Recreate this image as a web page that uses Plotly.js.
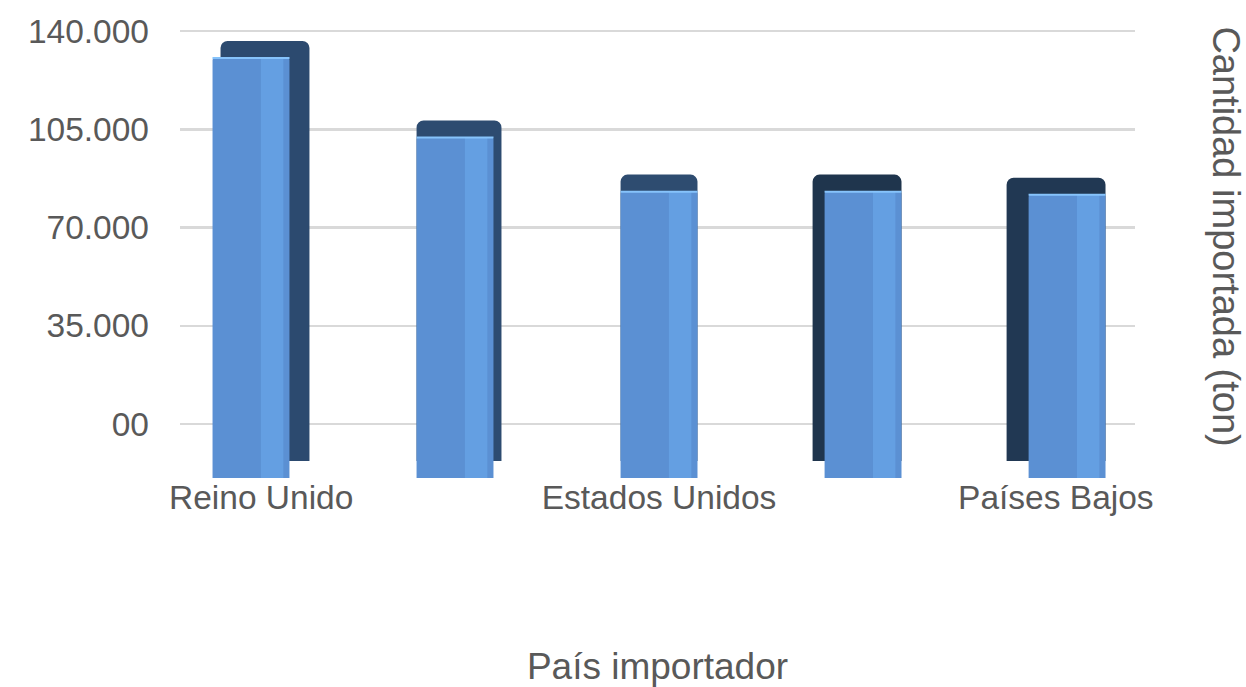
<!DOCTYPE html>
<html>
<head>
<meta charset="utf-8">
<script src="https://cdn.plot.ly/plotly-3.0.1.min.js"></script>
<style>
  html, body { margin: 0; padding: 0; background: #ffffff; }
  #chart { width: 1246px; height: 687px; }
</style>
</head>
<body>
<div id="chart"></div>
<script>
// ---- data ----
// Five importing countries; the original chart only prints every other label.
const barLabels = ["Reino Unido", "", "Estados Unidos", "", "Países Bajos"];
const importTon = [132000, 107000, 90000, 90000, 89000];
const yTickVals = [0, 35000, 70000, 105000, 140000];
const yTickText = ["00", "35.000", "70.000", "105.000", "140.000"];
const xTitle = "País importador";
const yTitle = "Cantidad importada (ton)";

// ---- styling (3D look) ----
const xPos = barLabels.map((_, i) => i);
const tickIdx = xPos.filter(i => barLabels[i] !== "");
const labelNudge = [0.05, 0, -0.055];          // perspective of labels
const barW = 0.377;
const pxPerUnit = 204;
const depthLeftPx = [8, 0, 0, -12, -22];       // perspective of top / side faces
const depthRightPx = [20, 8, 0, 0, 0];
const depthColors = ["#2c4a6f", "#2d4b70", "#2e4c70", "#1f354d", "#213853"];
const font = "Liberation Sans, Arial, sans-serif";
const grey = "#595959";

// invisible trace so that the base (grid) subplot exists
const gridHost = {
  type: "scatter", mode: "markers", x: xPos, y: importTon, yaxis: "y",
  marker: { opacity: 0 }, hoverinfo: "skip", showlegend: false
};
const depth = {
  type: "bar", x: xPos, y: importTon, yaxis: "y2",
  width: depthLeftPx.map((l, i) => barW + (depthRightPx[i] - l) / pxPerUnit),
  offset: depthLeftPx.map(l => -barW / 2 + l / pxPerUnit),
  marker: { color: depthColors, cornerradius: 7, line: { width: 0 } },
  hoverinfo: "skip", showlegend: false
};
const front = {
  type: "bar", x: xPos, y: importTon, yaxis: "y3",
  width: barW, offset: -barW / 2,
  marker: { color: "#5b90d3", cornerradius: 2, line: { width: 0 } },
  hoverinfo: "skip", showlegend: false
};
const shine = {
  type: "bar", x: xPos, y: importTon, yaxis: "y3",
  width: 0.11, offset: barW / 2 - 0.14,
  marker: { color: "#6cabee", opacity: 0.55, line: { width: 0 } },
  hoverinfo: "skip", showlegend: false
};
const topEdge = {
  type: "scatter", mode: "markers", x: xPos, y: importTon, yaxis: "y3",
  marker: { symbol: "line-ew", size: 55, line: { color: "#86c3fb", width: 2 } },
  hoverinfo: "skip", showlegend: false, cliponaxis: false
};

const layout = {
  width: 1246, height: 687,
  margin: { l: 180, r: 111, t: 25, b: 207 },
  paper_bgcolor: "#ffffff", plot_bgcolor: "#ffffff",
  barmode: "overlay",
  showlegend: false,
  font: { family: font, color: grey },
  xaxis: {
    range: [-0.348, 4.333],
    tickvals: tickIdx.map((i, k) => i + labelNudge[k]),
    ticktext: tickIdx.map(i => barLabels[i]),
    tickfont: { size: 33.5, color: grey, family: font },
    ticklabelstandoff: -6,
    showgrid: false, zeroline: false, showline: false, ticks: "",
    title: { text: xTitle, font: { size: 37, color: grey, family: font }, standoff: 139 },
    automargin: false, fixedrange: true
  },
  yaxis: {
    range: [-19950, 142137],
    tickvals: yTickVals, ticktext: yTickText,
    tickfont: { size: 33.5, color: grey, family: font },
    gridcolor: "#d9d9d9", gridwidth: 2.5,
    zeroline: false, showline: false, ticks: "",
    ticklabelstandoff: 30,
    automargin: false, fixedrange: true
  },
  yaxis2: { overlaying: "y", range: [-5971, 137020], visible: false, fixedrange: true },
  yaxis3: { overlaying: "y", range: [-629, 142371], visible: false, fixedrange: true },
  annotations: [{
    text: yTitle, textangle: 90,
    xref: "paper", yref: "paper", x: 1.095, y: 0.536,
    xanchor: "center", yanchor: "middle", showarrow: false,
    font: { size: 38, color: grey, family: font }
  }]
};

Plotly.newPlot("chart", [gridHost, depth, front, shine, topEdge], layout, { staticPlot: true, displayModeBar: false });
</script>
</body>
</html>
